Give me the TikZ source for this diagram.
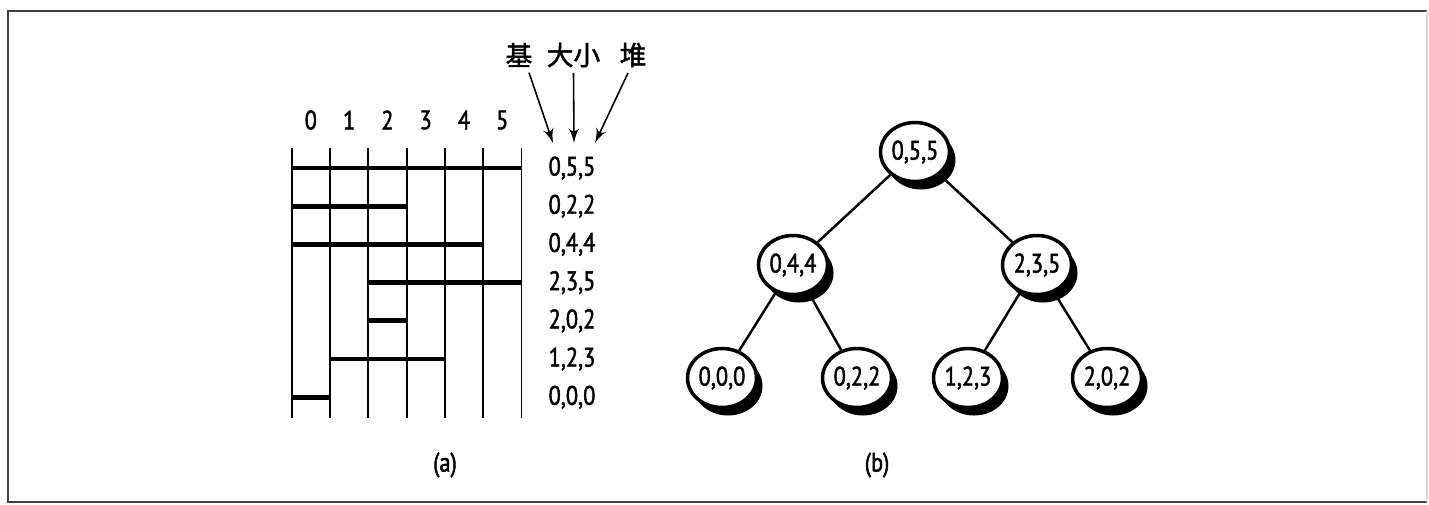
\documentclass[tikz,border=0pt]{standalone}
\usepackage{fontspec}
\setmainfont{PT Sans}[FakeStretch=0.84, FakeBold=1.6]
\newfontfamily\cjk{Noto Sans CJK SC}[FakeBold=1.6]
\usetikzlibrary{arrows}
\usetikzlibrary{shapes.geometric,shadows}

\tikzset{
  heapnode/.style={ellipse, draw, line width=1pt, fill=white,
    minimum width=6.9mm, minimum height=5.9mm, inner sep=0pt,
    drop shadow={shadow xshift=0.6mm, shadow yshift=-0.8mm, opacity=1, fill=black}},
  bar/.style={line width=1.4pt},
  gridline/.style={line width=0.55pt},
  treeline/.style={line width=0.7pt},
  hanzi/.style={font=\cjk\fontsize{7.6}{8}\selectfont, inner sep=0pt},
}

\begin{document}
\begin{tikzpicture}[font=\fontsize{7.6}{8}\selectfont]
    \useasboundingbox (0,0) rectangle (14.29,5.04);
    % frame
    \draw[black!75, line width=0.7pt] (14.27,4.93) -- (0.08,4.93) -- (0.08,0.02) -- (14.27,0.02);
    \draw[black!15, line width=0.7pt] (14.27,4.93) -- (14.27,0.02);

    % (a) columns
    \foreach \i in {0,...,6}
      \draw[gridline] (2.917+0.383*\i, 3.56) -- (2.917+0.383*\i, 0.86);
    \foreach \i in {0,...,5}
      \node (c\i) at (3.108+0.383*\i, 3.84) {\i};

    %% bars: row/from/to/label
    \foreach \r/\b/\e/\t in {0/0/6/{0,5,5}, 1/0/3/{0,2,2}, 2/0/5/{0,4,4},
        3/2/6/{2,3,5}, 4/2/3/{2,0,2}, 5/1/4/{1,2,3}, 6/0/1/{0,0,0}} {
      \draw[bar] (2.917+0.383*\b, 3.36-0.382*\r) -- (2.917+0.383*\e, 3.36-0.382*\r);
      \node (t\r) at (5.72, 3.36-0.382*\r) {\t};
    }

    %% heads
    \node[hanzi] (ji) at (5.19,4.49) {基};
    \node[hanzi] (dx) at (5.735,4.49) {大小};
    \node[hanzi] (dui) at (6.33,4.49) {堆};
    \coordinate (ji tip) at (5.53,3.61);
    \coordinate (dx tip) at (5.74,3.61);
    \coordinate (dui tip) at (5.95,3.61);
    \draw[-latex', line width=0.45pt] ([xshift=1mm, yshift=-0.5mm]ji.south) -- (ji tip);
    \draw[-latex', line width=0.45pt] ([yshift=-0.5mm]dx.south) -- (dx tip);
    \draw[-latex', line width=0.45pt] ([xshift=-0.5mm, yshift=-0.5mm]dui.south) -- (dui tip);

    % (b) tree
    \node[heapnode] (n055) at (9.15,3.52) {0,5,5};
    \node[heapnode] (n044) at (7.93,2.39) {0,4,4};
    \node[heapnode] (n235) at (10.37,2.39) {2,3,5};
    \node[heapnode] (n000) at (7.22,1.26) {0,0,0};
    \node[heapnode] (n022) at (8.57,1.26) {0,2,2};
    \node[heapnode] (n123) at (9.68,1.26) {1,2,3};
    \node[heapnode] (n202) at (11.07,1.26) {2,0,2};
    \draw[treeline] (n055) -- (n044);
    \draw[treeline] (n055) -- (n235);
    \draw[treeline] (n044) -- (n000);
    \draw[treeline] (n044) -- (n022);
    \draw[treeline] (n235) -- (n123);
    \draw[treeline] (n235) -- (n202);

    % captions
    \node (la) at (4.45,0.39) {(a)};
    \node (lb) at (8.77,0.39) {(b)};
\end{tikzpicture}
\end{document}
